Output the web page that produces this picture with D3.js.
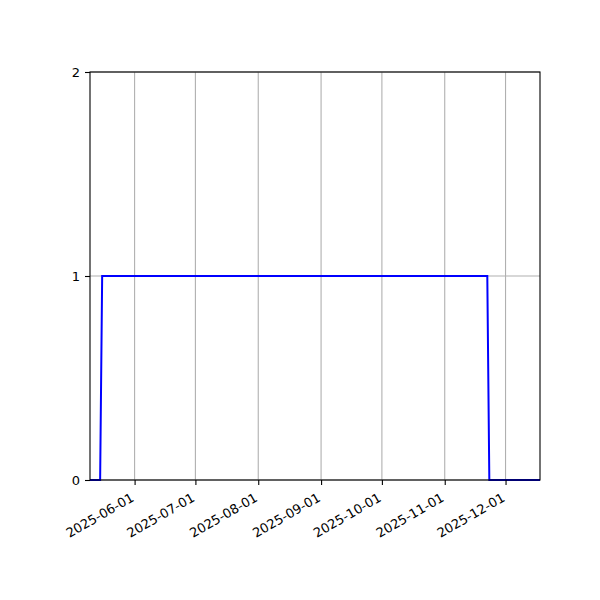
<!DOCTYPE html>
<html>
<head>
<meta charset="utf-8">
<script src="https://cdn.jsdelivr.net/npm/d3@7"></script>
<style>
  body { margin: 0; background: #fff; }
  text { font-family: "DejaVu Sans", sans-serif; font-size: 13px; fill: #000; }
</style>
</head>
<body>
<script>
var svg_width = 600;
var svg_height = 600;

// data: step signal, 0 -> 1 -> 0
var dates  = ["2025-05-10", "2025-05-15", "2025-05-16", "2025-11-22", "2025-11-23", "2025-12-18"];
var values = [0, 0, 1, 1, 0, 0];
var xTickLabels = ["2025-06-01", "2025-07-01", "2025-08-01", "2025-09-01", "2025-10-01", "2025-11-01", "2025-12-01"];
var yTicks = [0, 1, 2];

var parse = d3.utcParse("%Y-%m-%d");
var data = dates.map(function(d, i) { return {date: parse(d), value: values[i]}; });

var margin = {left: 90, right: 60, top: 72, bottom: 120};
var w = svg_width - margin.left - margin.right;
var h = svg_height - margin.top - margin.bottom;

var svg = d3.select("body").append("svg")
    .attr("width", svg_width)
    .attr("height", svg_height);

var g = svg.append("g").attr("transform", "translate(" + margin.left + "," + margin.top + ")");

var x = d3.scaleUtc()
    .domain(d3.extent(data, d => d.date))
    .range([0, w]);
var y = d3.scaleLinear().domain([0, 2]).range([h, 0]);

var xTicks = xTickLabels.map(parse);

// grid
g.append("g").selectAll("line").data(xTicks).enter().append("line")
    .attr("x1", d => x(d)).attr("x2", d => x(d))
    .attr("y1", 0).attr("y2", h)
    .attr("stroke", "#b0b0b0").attr("stroke-width", 1.1);
g.append("g").selectAll("line").data(yTicks).enter().append("line")
    .attr("x1", 0).attr("x2", w)
    .attr("y1", d => y(d)).attr("y2", d => y(d))
    .attr("stroke", "#b0b0b0").attr("stroke-width", 1.1);

// the line
var line = d3.line().x(d => x(d.date)).y(d => y(d.value));
g.append("path").datum(data)
    .attr("d", line)
    .attr("fill", "none")
    .attr("stroke", "blue")
    .attr("stroke-width", 2);

// axes
var xAxis = g.append("g").attr("transform", "translate(0," + h + ")")
    .call(d3.axisBottom(x).tickValues(xTicks).tickFormat(d3.utcFormat("%Y-%m-%d")).tickSize(5).tickSizeOuter(0));
xAxis.select(".domain").remove();
xAxis.selectAll(".tick line").attr("stroke", "#000").attr("stroke-width", 1.1);
xAxis.selectAll(".tick text")
    .attr("font-size", null).attr("font-family", null)
    .attr("text-anchor", "end")
    .attr("dominant-baseline", "hanging")
    .attr("y", 0).attr("dy", null)
    .attr("transform", "translate(-5,12) rotate(-30)");

var yAxis = g.append("g")
    .call(d3.axisLeft(y).tickValues(yTicks).tickFormat(d3.format("d")).tickSize(5).tickSizeOuter(0));
yAxis.select(".domain").remove();
yAxis.selectAll(".tick line").attr("stroke", "#000").attr("stroke-width", 1.1);
yAxis.selectAll(".tick text")
    .attr("font-size", null).attr("font-family", null)
    .attr("x", -10).attr("dy", "0.35em");

// frame
g.append("rect")
    .attr("width", w).attr("height", h)
    .attr("fill", "none").attr("stroke", "#000").attr("stroke-width", 1.1);
</script>
</body>
</html>
